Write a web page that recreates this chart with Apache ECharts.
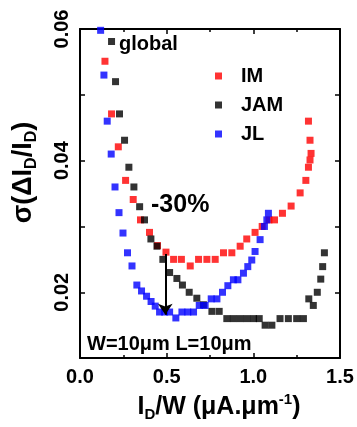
<!DOCTYPE html>
<html>
<head>
<meta charset="utf-8">
<script src="https://cdn.jsdelivr.net/npm/echarts@6/dist/echarts.min.js"></script>
<style>html,body{margin:0;padding:0;background:#fff;}#c{width:357px;height:427px;}</style>
</head>
<body>
<div id="c"></div>
<script>
// ---- data (x = I_D/W in µA/µm, y = sigma(ΔI_D/I_D)) ----
const imX  = [0.144,0.182,0.221,0.263,0.307,0.349,0.401,0.447,0.496,0.540,0.585,0.636,0.684,0.732,0.780,0.828,0.876,0.924,0.962,1.010,1.051,1.090,1.122,1.168,1.218,1.270,1.303,1.318,1.327,1.333,1.327,1.318];
const imY  = [0.0551,0.0471,0.0421,0.0370,0.0341,0.0310,0.0291,0.0271,0.0261,0.0250,0.0250,0.0240,0.0250,0.0250,0.0250,0.0260,0.0260,0.0270,0.0281,0.0291,0.0300,0.0310,0.0310,0.0320,0.0331,0.0351,0.0370,0.0390,0.0401,0.0411,0.0431,0.0460];
const jamX = [0.182,0.205,0.228,0.257,0.282,0.311,0.344,0.372,0.409,0.444,0.478,0.517,0.559,0.591,0.630,0.674,0.712,0.761,0.803,0.847,0.885,0.924,0.962,1.001,1.034,1.068,1.107,1.154,1.202,1.250,1.289,1.320,1.346,1.369,1.389,1.400,1.410];
const jamY = [0.0581,0.0520,0.0471,0.0431,0.0390,0.0360,0.0330,0.0310,0.0281,0.0270,0.0250,0.0230,0.0221,0.0211,0.0200,0.0191,0.0181,0.0171,0.0171,0.0160,0.0160,0.0160,0.0160,0.0160,0.0160,0.0150,0.0150,0.0160,0.0160,0.0160,0.0160,0.0190,0.0180,0.0200,0.0220,0.0239,0.0260];
const jlX  = [0.119,0.138,0.157,0.180,0.202,0.225,0.248,0.274,0.300,0.328,0.355,0.384,0.410,0.434,0.459,0.488,0.517,0.553,0.588,0.622,0.655,0.688,0.722,0.757,0.790,0.822,0.853,0.885,0.911,0.943,0.968,0.991,1.010,1.039,1.064,1.078,1.087];
const jlY  = [0.0598,0.0530,0.0460,0.0410,0.0360,0.0321,0.0290,0.0260,0.0240,0.0211,0.0202,0.0194,0.0186,0.0179,0.0170,0.0170,0.0170,0.0161,0.0170,0.0170,0.0170,0.0180,0.0180,0.0190,0.0190,0.0200,0.0210,0.0219,0.0219,0.0229,0.0239,0.0249,0.0262,0.0280,0.0300,0.0310,0.0320];
const seriesNames = ['IM','JAM','JL'];
const xTicks = [0.0, 0.5, 1.0, 1.5];
const yTicks = [0.02, 0.04, 0.06];
const arrowX = 0.492, arrowFrom = 0.0258, arrowTo = 0.0166;

const pairs = (xs, ys) => xs.map((x, i) => [x, ys[i]]);
const FONT = '"Liberation Sans", Arial, sans-serif';

const chart = echarts.init(document.getElementById('c'), null, {renderer: 'canvas'});
const baseX = {
  type: 'value', min: 0, max: 1.5, interval: 0.5,
  axisLine: {show: true, onZero: false, lineStyle: {color: '#000', width: 2}},
  axisTick: {show: true, inside: true, length: 5, lineStyle: {color: '#000', width: 1.5}},
  minorTick: {show: true, splitNumber: 2, length: 3, lineStyle: {color: '#000', width: 1.5}},
  splitLine: {show: false}
};
const baseY = {
  type: 'value', min: 0.01, max: 0.06, interval: 0.01,
  axisLine: {show: true, onZero: false, lineStyle: {color: '#000', width: 2}},
  axisTick: {show: true, inside: true, length: 5, lineStyle: {color: '#000', width: 1.5}},
  splitLine: {show: false}
};
const sq = {type: 'scatter', symbol: 'rect', symbolSize: 7, clip: true};

chart.setOption({
  animation: false,
  backgroundColor: '#fff',
  grid: {left: 80, right: 17, top: 29, bottom: 61},
  legend: {
    data: seriesNames, orient: 'vertical', left: 215, top: 66, padding: 0,
    icon: 'rect', itemWidth: 7, itemHeight: 7, itemGap: 9,
    textStyle: {fontFamily: FONT, fontWeight: 'bold', fontSize: 20, lineHeight: 20, color: '#000', padding: [0, 0, 0, 14]}
  },
  xAxis: [
    Object.assign({}, baseX, {
      position: 'bottom',
      axisLabel: {show: true, margin: 9, fontFamily: FONT, fontWeight: 'bold', fontSize: 20, color: '#000',
        formatter: v => xTicks.some(t => Math.abs(t - v) < 1e-9) ? v.toFixed(1) : ''},
      name: '{m|I}{s|D}{m|/W (\u03bcA.\u03bcm}{u|-1}{m|)}', nameLocation: 'middle', nameGap: 26,
      nameTextStyle: {padding: [0, 0, 0, 18], rich: {
        m: {fontFamily: FONT, fontWeight: 'bold', fontSize: 25, lineHeight: 30, color: '#000'},
        s: {fontFamily: FONT, fontWeight: 'bold', fontSize: 15, lineHeight: 15, verticalAlign: 'bottom', color: '#000'},
        u: {fontFamily: FONT, fontWeight: 'bold', fontSize: 15, lineHeight: 15, verticalAlign: 'top', color: '#000'}
      }}
    }),
    Object.assign({}, baseX, {position: 'top', axisLabel: {show: false}})
  ],
  yAxis: [
    Object.assign({}, baseY, {
      position: 'left',
      axisLabel: {show: true, rotate: 90, margin: 8, fontFamily: FONT, fontWeight: 'bold', fontSize: 20, color: '#000',
        formatter: v => yTicks.some(t => Math.abs(t - v) < 1e-9) ? v.toFixed(2) : ''},
      name: '{m|\u03c3(\u0394I}{s|D}{m|/I}{s|D}{m|)}', nameLocation: 'middle', nameRotate: 90, nameGap: 40,
      nameTextStyle: {padding: [0, 0, 0, 42], rich: {
        m: {fontFamily: FONT, fontWeight: 'bold', fontSize: 27, lineHeight: 32, color: '#000'},
        s: {fontFamily: FONT, fontWeight: 'bold', fontSize: 16, lineHeight: 16, verticalAlign: 'bottom', color: '#000'}
      }}
    }),
    Object.assign({}, baseY, {position: 'right', axisLabel: {show: false}})
  ],
  graphic: [
    {type: 'text', left: 119, top: 34, style: {text: 'global', font: 'bold 20px ' + FONT, fill: '#000'}},
    {type: 'text', left: 151, top: 193, style: {text: '-30%', font: 'bold 25px ' + FONT, fill: '#000'}},
    {type: 'text', left: 87, top: 334, style: {text: 'W=10\u03bcm L=10\u03bcm', font: 'bold 20px ' + FONT, fill: '#000'}}
  ],
  series: [
    Object.assign({}, sq, {name: 'IM', data: pairs(imX, imY), itemStyle: {color: '#ff0000'}, z: 2}),
    Object.assign({}, sq, {name: 'JAM', data: pairs(jamX, jamY), itemStyle: {color: '#000000'}, z: 3}),
    Object.assign({}, sq, {name: 'JL', data: pairs(jlX, jlY), itemStyle: {color: '#0000ff'}, z: 4}),
    {type: 'scatter', name: 'arrow', data: [], z: 10,
      markLine: {silent: true, symbol: ['none', 'arrow'], symbolSize: 11, label: {show: false},
        lineStyle: {color: '#000', width: 2, type: 'solid'},
        data: [[{coord: [arrowX, arrowFrom]}, {coord: [arrowX, arrowTo]}]]}}
  ]
});
</script>
</body>
</html>
